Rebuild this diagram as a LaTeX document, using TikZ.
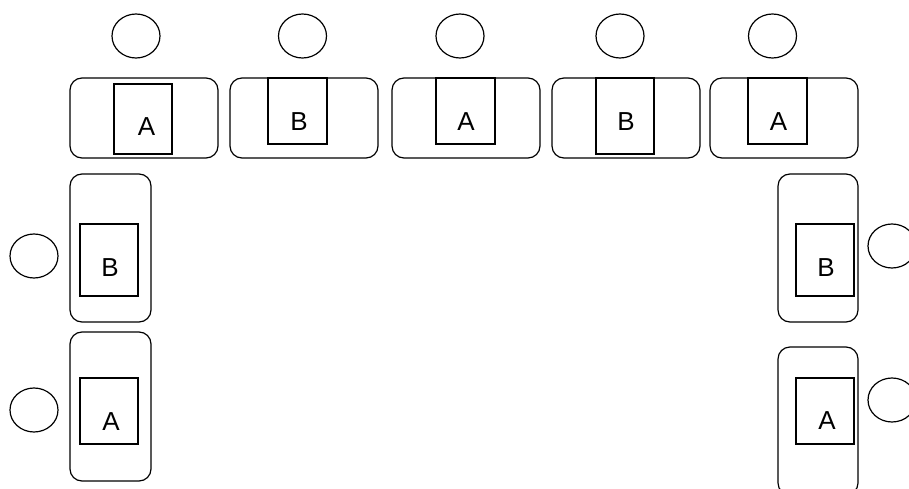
\documentclass[tikz,border=0pt]{standalone}
\usepackage{fontspec}
\setmainfont{Liberation Sans}
\usetikzlibrary{shapes.geometric}
\begin{document}
\begin{tikzpicture}[x=1pt,y=-1pt,line width=1.2pt,
  tbl/.style={draw, rounded corners=12pt, inner sep=0pt},
  seat/.style={draw, ellipse, inner sep=0pt, minimum width=48pt, minimum height=44pt},
  inbox/.style={draw, inner sep=0pt},
  lbl/.style={font=\fontsize{26}{26}\selectfont, inner sep=0pt}]
\path[use as bounding box] (0,0) rectangle (909,489);
\clip (0,0) rectangle (909,489);
% top seats
\node[seat] (c1) at (136,36) {};
\node[seat] (c2) at (302.5,36) {};
\node[seat] (c3) at (460,36) {};
\node[seat] (c4) at (620,36) {};
\node[seat] (c5) at (772.5,36) {};
% side seats
\node[seat] (c6) at (34,256) {};
\node[seat] (c7) at (34,410) {};
\node[seat] (c8) at (892,246) {};
\node[seat] (c9) at (892,400) {};
% top tables
\node[tbl, minimum width=148pt, minimum height=80pt] (t1) at (144,118) {};
\node[inbox, minimum width=58pt, minimum height=70pt] (b1) at (143,119) {};
\node[lbl] (l1) at (146.5,127) {A};
\node[tbl, minimum width=148pt, minimum height=80pt] (t2) at (304,118) {};
\node[inbox, minimum width=59pt, minimum height=66pt] (b2) at (297.5,111) {};
\node[lbl] (l2) at (299,122) {B};
\node[tbl, minimum width=148pt, minimum height=80pt] (t3) at (466,118) {};
\node[inbox, minimum width=59pt, minimum height=66pt] (b3) at (465.5,111) {};
\node[lbl] (l3) at (466,122) {A};
\node[tbl, minimum width=148pt, minimum height=80pt] (t4) at (626,118) {};
\node[inbox, minimum width=58pt, minimum height=76pt] (b4) at (625,116) {};
\node[lbl] (l4) at (626,122) {B};
\node[tbl, minimum width=148pt, minimum height=80pt] (t5) at (784,118) {};
\node[inbox, minimum width=59pt, minimum height=66pt] (b5) at (777.5,111) {};
\node[lbl] (l5) at (778.5,122) {A};
% left tables
\node[tbl, minimum width=81pt, minimum height=148pt] (t6) at (110.5,248) {};
\node[inbox, minimum width=58pt, minimum height=72pt] (b6) at (109,260) {};
\node[lbl] (l6) at (110,267.5) {B};
\node[tbl, minimum width=81pt, minimum height=149pt] (t7) at (110.5,406.5) {};
\node[inbox, minimum width=58pt, minimum height=66pt] (b7) at (109,411) {};
\node[lbl] (l7) at (111,421.5) {A};
% right tables
\node[tbl, minimum width=80pt, minimum height=148pt] (t8) at (818,248) {};
\node[inbox, minimum width=58pt, minimum height=72pt] (b8) at (825,260) {};
\node[lbl] (l8) at (826,267.5) {B};
\node[tbl, minimum width=80pt, minimum height=148pt] (t9) at (818,421) {};
\node[inbox, minimum width=58pt, minimum height=66pt] (b9) at (825,411) {};
\node[lbl] (l9) at (827,421) {A};
\end{tikzpicture}
\end{document}
